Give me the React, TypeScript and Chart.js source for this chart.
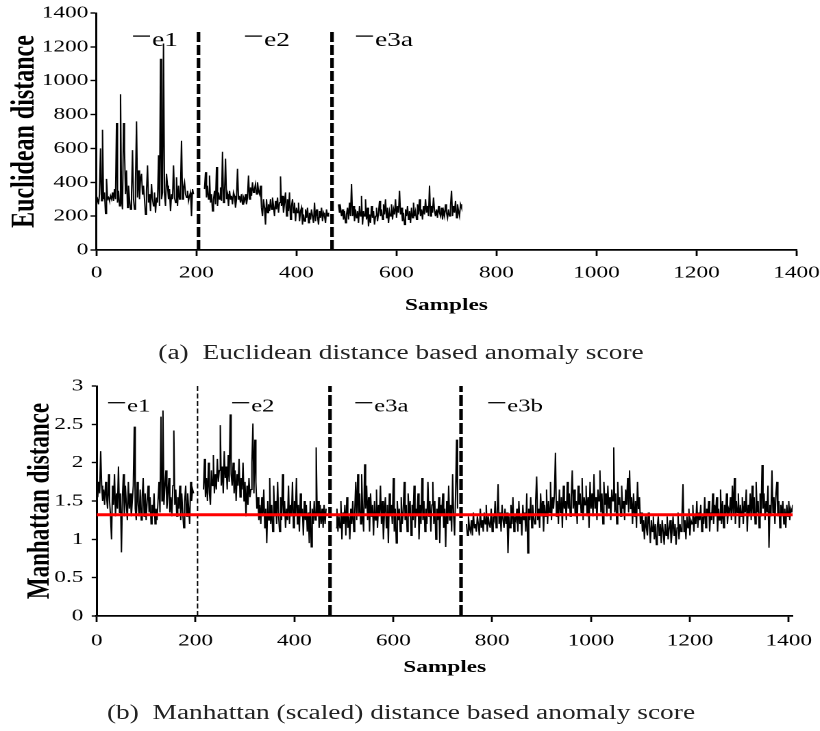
import React, { useEffect, useRef } from "react";
import { Chart, registerables } from "chart.js";

Chart.register(...registerables);

// ---------------- data: (a) Euclidean distance ----------------
const A_STEP = 2;
const A_E1_START = 0;
const A_E1 = [280, 300, 270, 330, 600, 290, 710, 300, 340, 215, 420, 300, 310, 290, 320, 300, 340, 290, 360, 300, 750, 280, 350, 260, 920, 300, 240, 750, 590, 330, 470, 250, 380, 300, 240, 330, 590, 300, 240, 400, 760, 310, 470, 300, 420, 450, 330, 380, 300, 210, 350, 500, 280, 330, 230, 390, 300, 260, 340, 220, 310, 280, 560, 260, 1130, 300, 340, 1220, 330, 260, 450, 380, 300, 360, 230, 330, 300, 500, 310, 280, 430, 260, 380, 300, 350, 645, 300, 370, 400, 330, 310, 350, 290, 320, 340, 200, 360, 330];
const A_E2_START = 216;
const A_E2 = [360, 460, 310, 380, 300, 440, 280, 330, 230, 300, 350, 270, 490, 260, 340, 300, 370, 290, 580, 280, 330, 540, 300, 330, 260, 350, 300, 320, 270, 340, 320, 250, 300, 480, 300, 320, 280, 330, 270, 310, 290, 330, 270, 310, 440, 300, 370, 320, 400, 340, 360, 390, 330, 400, 350, 330, 380, 250, 200, 300, 250, 150, 300, 220, 270, 230, 300, 240, 310, 260, 200, 290, 240, 310, 220, 280, 435, 260, 320, 220, 280, 340, 200, 300, 230, 340, 180, 260, 300, 220, 280, 170, 250, 220, 280, 170, 230, 250, 150, 210, 170, 240, 190, 250, 160, 220, 180, 240, 200, 160, 280, 170, 240, 200, 150, 230, 190, 250, 170, 220, 200, 160, 240, 200, 220];
const A_E3A_START = 484;
const A_E3A = [270, 220, 250, 200, 240, 180, 230, 160, 210, 250, 180, 280, 200, 390, 200, 260, 170, 240, 190, 230, 160, 260, 200, 320, 150, 230, 200, 300, 180, 250, 140, 210, 160, 260, 190, 230, 150, 200, 250, 170, 220, 290, 200, 240, 180, 270, 210, 300, 190, 250, 160, 230, 200, 270, 180, 240, 210, 300, 190, 260, 220, 350, 210, 250, 170, 220, 150, 240, 200, 260, 180, 230, 160, 250, 190, 280, 200, 230, 180, 270, 210, 300, 200, 240, 180, 260, 210, 300, 220, 260, 200, 380, 200, 260, 220, 310, 230, 200, 240, 190, 260, 220, 200, 250, 180, 230, 200, 270, 220, 190, 240, 200, 260, 350, 200, 260, 220, 290, 190, 270, 230, 200, 270, 250];
const A_SEPARATORS = [204, 471];
const A_SEP_TOP = 1300;
const A_X_TICKS = [0, 200, 400, 600, 800, 1000, 1200, 1400];
const A_Y_TICKS = [0, 200, 400, 600, 800, 1000, 1200, 1400];
const A_LABELS = ["e1", "e2", "e3a"];
const A_LABEL_X = [73, 297, 519];
const A_LABEL_Y = 1237;

// ---------------- data: (b) Manhattan (scaled) distance ----------------
const B_STEP = 2;
const B_E1_START = 0;
const B_E1 = [1.9, 1.55, 1.75, 1.6, 2.15, 1.7, 1.5, 1.65, 1.45, 1.75, 1.55, 1.4, 1.85, 1.5, 1.3, 1.0, 1.7, 1.45, 1.85, 1.3, 1.6, 1.4, 1.95, 1.35, 1.6, 0.83, 1.55, 1.85, 1.3, 1.7, 1.45, 1.25, 1.75, 1.4, 1.6, 1.3, 1.5, 1.7, 2.47, 1.4, 1.25, 1.75, 1.45, 1.3, 1.65, 1.25, 1.55, 1.8, 1.3, 1.6, 1.25, 1.5, 1.7, 1.35, 1.55, 1.2, 1.45, 1.3, 1.6, 1.2, 1.4, 1.25, 1.5, 1.75, 1.35, 2.6, 1.5, 2.68, 1.45, 1.7, 1.9, 1.4, 1.6, 1.8, 1.35, 1.55, 1.3, 1.7, 2.42, 1.45, 1.65, 1.3, 1.55, 1.4, 1.7, 1.25, 1.6, 1.35, 1.15, 1.5, 1.7, 1.3, 1.6, 1.4, 1.2, 1.75, 1.5, 1.65, 1.6];
const B_E2_START = 216;
const B_E2 = [1.65, 2.05, 1.55, 1.8, 1.5, 2.0, 1.6, 1.45, 1.9, 1.7, 2.1, 1.6, 1.85, 1.65, 2.05, 1.75, 1.9, 2.49, 1.7, 1.95, 1.6, 2.15, 1.8, 1.95, 1.65, 2.1, 1.75, 2.63, 1.85, 1.7, 2.0, 1.6, 1.9, 1.5, 1.85, 1.7, 2.05, 1.55, 1.8, 1.65, 2.0, 1.5, 1.75, 1.3, 1.7, 1.45, 1.8, 1.55, 1.65, 2.0, 2.51, 1.6, 2.3, 1.75, 1.4, 1.55, 1.25, 1.45, 1.2, 1.55, 1.3, 1.65, 1.15, 1.4, 0.95, 1.5, 1.25, 1.8, 1.2, 1.45, 1.1, 1.7, 1.3, 1.5, 1.2, 1.75, 1.3, 1.1, 1.55, 1.25, 1.85, 1.3, 1.5, 1.15, 1.4, 1.25, 1.7, 1.2, 1.45, 1.3, 1.75, 1.15, 1.5, 1.3, 1.8, 1.2, 1.45, 1.1, 1.6, 1.3, 1.4, 1.05, 1.5, 1.25, 1.45, 1.1, 1.35, 0.95, 1.5, 0.9, 1.4, 1.2, 1.5, 1.25, 2.2, 1.3, 1.5, 1.15, 1.45, 1.2, 1.4, 1.15, 1.45, 1.2, 1.4];
const B_E3A_START = 484;
const B_E3A = [1.15, 1.4, 1.1, 1.3, 1.15, 1.5, 1.0, 1.35, 1.2, 1.45, 1.05, 1.55, 1.15, 1.3, 1.0, 1.4, 1.2, 1.5, 1.1, 1.35, 1.75, 1.25, 1.85, 1.3, 1.6, 1.2, 1.85, 1.35, 1.1, 1.98, 1.4, 1.7, 1.25, 1.55, 1.1, 1.6, 1.3, 1.45, 1.05, 1.5, 1.25, 1.65, 1.15, 1.45, 1.3, 1.7, 1.2, 1.5, 1.0, 1.35, 1.55, 1.15, 1.45, 0.95, 1.6, 1.3, 1.45, 1.2, 1.8, 1.1, 1.4, 0.95, 1.5, 1.25, 1.4, 1.1, 1.55, 1.2, 1.35, 1.75, 1.25, 1.45, 1.1, 1.6, 1.3, 1.5, 1.05, 1.45, 1.25, 1.7, 1.15, 1.4, 1.3, 1.6, 1.0, 1.45, 1.2, 1.8, 1.25, 1.5, 1.1, 1.4, 1.2, 1.75, 1.3, 1.5, 1.1, 1.45, 1.75, 1.2, 1.5, 1.0, 1.4, 1.25, 1.55, 0.95, 1.45, 1.3, 1.6, 1.15, 1.4, 0.9, 1.5, 1.2, 1.7, 1.25, 1.45, 1.1, 1.85, 1.3, 1.05, 1.6, 2.3, 1.4];
const B_E3B_START = 748;
const B_E3B = [
  1.2, 1.05, 1.3, 1.15, 1.1, 1.25, 1.05, 1.35, 1.15, 1.2,
  1.1, 1.3, 1.2, 1.05, 1.4, 1.15, 1.25, 1.1, 1.35, 1.2,
  1.45, 1.1, 1.3, 1.2, 1.15, 1.4, 1.1, 1.3, 1.25, 1.5,
  1.15, 1.3, 1.72, 1.2, 1.35, 1.1, 1.45, 1.25, 1.15, 1.4,
  1.2, 1.35, 0.82, 1.3, 1.15, 1.45, 1.2, 1.55, 1.1, 1.3,
  1.25, 1.4, 1.1, 1.5, 1.2, 1.3, 1.05, 1.45, 1.25, 1.35,
  1.1, 1.6, 0.82, 1.4, 1.25, 1.55, 1.15, 1.45, 1.3, 1.2,
  1.5, 1.82, 1.25, 1.4, 1.15, 1.6, 1.3, 1.5, 1.1, 1.45,
  1.3, 1.65, 1.2, 1.5, 1.35, 1.75, 1.25, 1.55, 1.4, 1.6,
  2.13, 1.3, 1.5, 1.2, 1.65, 1.35, 1.55, 1.15, 1.7, 1.4,
  1.5, 1.25, 1.75, 1.4, 1.6, 1.3, 1.55, 1.9, 1.4, 1.65,
  1.3, 1.5, 1.2, 1.7, 1.45, 1.6, 1.35, 1.8, 1.25, 1.55,
  1.45, 1.7, 1.3, 1.55, 1.15, 1.75, 1.4, 1.6, 1.3, 1.85,
  1.4, 1.55, 1.25, 1.65, 1.5, 1.9, 1.35, 1.6, 1.2, 1.75,
  1.45, 1.6, 1.3, 1.7, 1.4, 1.55, 1.25, 1.65, 1.5, 2.2,
  1.35, 1.6, 1.2, 1.75, 1.45, 1.55, 1.3, 1.7, 1.4, 1.5,
  1.25, 1.65, 1.45, 1.8, 1.35, 1.9, 1.4, 1.55, 1.2, 1.6,
  1.3, 1.5, 1.15, 1.75, 1.4, 1.55, 1.2, 1.35, 1.1, 1.25,
  1.0, 1.3, 1.15, 1.05, 1.35, 1.2, 0.95, 1.25, 1.1, 1.3,
  1.0, 1.2, 0.93, 1.15, 1.3, 1.05, 1.2, 0.95, 1.25, 1.1,
  0.93, 1.2, 1.05, 1.3, 1.0, 1.15, 1.25, 0.95, 1.1, 1.3,
  1.05, 1.2, 0.93, 1.15, 1.35, 1.0, 1.2, 1.1, 1.3, 1.72,
  1.1, 1.25, 1.0, 1.3, 1.15, 1.4, 1.05, 1.25, 1.2, 1.45,
  1.1, 1.3, 1.2, 1.5, 1.15, 1.35, 1.25, 1.45, 1.1, 1.3,
  1.2, 1.55, 1.15, 1.4, 1.3, 1.5, 1.1, 1.35, 1.25, 1.6,
  1.2, 1.45, 1.3, 1.55, 1.1, 1.4, 1.25, 1.65, 1.2, 1.5,
  1.15, 1.45, 1.3, 1.6, 1.2, 1.4, 1.35, 1.55, 1.25, 1.7,
  1.3, 1.8, 1.2, 1.5, 1.35, 1.6, 1.15, 1.45, 1.3, 1.55,
  1.2, 1.5, 1.35, 1.65, 1.1, 1.45, 1.3, 1.6, 1.25, 1.7,
  1.3, 1.55, 1.2, 1.75, 1.35, 1.5, 1.15, 1.6, 1.3, 1.97,
  1.4, 1.6, 1.25, 1.5, 1.35, 1.7, 0.89, 1.45, 1.3, 1.9,
  1.35, 1.55, 1.2, 1.6, 1.75, 1.3, 1.5, 1.15, 1.45, 1.3,
  1.5, 1.2, 1.4, 1.15, 1.45, 1.3, 1.5, 1.25, 1.4, 1.35,
  1.45,
];
const B_THRESHOLD = 1.32;
const B_SEPARATORS = [204, 472, 737];
const B_X_MAX = 1408;
const B_X_TICKS = [0, 200, 400, 600, 800, 1000, 1200, 1400];
const B_Y_TICKS = [0, 0.5, 1, 1.5, 2, 2.5, 3];
const B_LABELS = ["e1", "e2", "e3a", "e3b"];
const B_LABEL_X = [23, 274, 523, 792];
const B_LABEL_Y = 2.726;

// ---------------- layout helpers ----------------
const S = 1.37; // horizontal stretch of the figure
const W = Math.round(820 / S);
const u = (p: number) => p / S;
const FONT = "'Liberation Serif', 'Times New Roman', Times, serif";

type Pt = { x: number; y: number };
const pts = (start: number, step: number, vals: number[]): Pt[] =>
  vals.map((v, i) => ({ x: start + i * step, y: v }));

const seriesDs = (label: string, data: Pt[]) => ({
  label,
  data,
  borderColor: "#000",
  borderWidth: 1,
  pointRadius: 0,
  tension: 0,
  fill: false,
});

const vlineDs = (x: number, top: number, width: number, dash: number[]) => ({
  label: "separator",
  data: [
    { x, y: 0 },
    { x, y: top },
  ],
  borderColor: "#000",
  borderWidth: width,
  borderDash: dash,
  borderCapStyle: "butt",
  pointRadius: 0,
  fill: false,
});

const seriesLabels = {
  id: "seriesLabels",
  afterDatasetsDraw(chart: any, _args: any, opts: any) {
    const { ctx, scales } = chart;
    const xs = scales.x;
    const ys = scales.y;
    ctx.save();
    opts.items.forEach((it: any) => {
      const px = xs.getPixelForValue(it.x);
      const py = ys.getPixelForValue(it.y);
      ctx.strokeStyle = "#000";
      ctx.lineWidth = 1.3;
      ctx.beginPath();
      ctx.moveTo(px, py - opts.raise);
      ctx.lineTo(px + opts.dashLen, py - opts.raise);
      ctx.stroke();
      ctx.fillStyle = "#000";
      ctx.font = `${opts.size}px ${FONT}`;
      ctx.textAlign = "left";
      ctx.textBaseline = "middle";
      ctx.fillText(it.text, px + opts.dashLen + opts.gap, py);
    });
    ctx.restore();
  },
};

type Cfg = {
  datasets: any[];
  xTicks: number[];
  yTicks: number[];
  xMax: number;
  yTitle: string;
  yTitleSize: number;
  yTitlePad: number;
  yTickPad: number;
  yTickLen: number;
  xTickPad: number;
  xTitlePad: number;
  area: { left: number; right: number; top: number; bottom: number };
  h: number;
  labels: { text: string; x: number; y: number }[];
  labelSize: number;
  raise: number;
};

const plain = (v: any) => String(v);

function makeConfig(c: Cfg): any {
  const tickFont = { family: FONT, size: 17 };
  return {
    type: "line",
    data: { datasets: c.datasets },
    plugins: [seriesLabels],
    options: {
      animation: false,
      responsive: false,
      devicePixelRatio: 2,
      layout: {
        padding: { left: 0, right: W - c.area.right, top: c.area.top, bottom: 0 },
      },
      plugins: {
        legend: { display: false },
        tooltip: { enabled: false },
        seriesLabels: {
          items: c.labels,
          size: c.labelSize,
          dashLen: u(17),
          gap: u(2),
          raise: c.raise,
        },
      },
      scales: {
        x: {
          type: "linear",
          min: 0,
          max: c.xMax,
          afterBuildTicks: (s: any) => {
            s.ticks = c.xTicks.map((v) => ({ value: v }));
          },
          afterFit: (s: any) => {
            s.height = c.h - c.area.bottom;
            s.paddingLeft = 0;
            s.paddingRight = 0;
          },
          ticks: {
            autoSkip: false,
            maxRotation: 0,
            includeBounds: false,
            color: "#000",
            font: tickFont,
            padding: c.xTickPad,
            callback: plain,
          },
          grid: {
            drawOnChartArea: false,
            drawTicks: true,
            tickLength: 6,
            tickWidth: 1.4,
            tickColor: "#000",
          },
          border: { display: true, color: "#000", width: 1.7 },
          title: {
            display: true,
            text: "Samples",
            color: "#000",
            font: { family: FONT, size: 17, weight: "bold" },
            padding: { top: 0, bottom: c.xTitlePad },
          },
        },
        y: {
          type: "linear",
          min: c.yTicks[0],
          max: c.yTicks[c.yTicks.length - 1],
          afterBuildTicks: (s: any) => {
            s.ticks = c.yTicks.map((v) => ({ value: v }));
          },
          afterFit: (s: any) => {
            s.width = c.area.left;
            s.paddingTop = 0;
            s.paddingBottom = 0;
          },
          ticks: {
            autoSkip: false,
            color: "#000",
            font: tickFont,
            padding: c.yTickPad,
            callback: plain,
          },
          grid: {
            drawOnChartArea: false,
            drawTicks: true,
            tickLength: c.yTickLen,
            tickWidth: 1.4,
            tickColor: "#000",
          },
          border: { display: true, color: "#000", width: 1.5 },
          title: {
            display: true,
            text: c.yTitle,
            color: "#000",
            font: { family: FONT, size: c.yTitleSize, weight: "bold" },
            padding: { top: c.yTitlePad, bottom: 0 },
          },
        },
      },
    },
  };
}

// ---------------- chart configs ----------------
const A_H = 330;
const configA = () =>
  makeConfig({
    datasets: [
      seriesDs("e1", pts(A_E1_START, A_STEP, A_E1)),
      seriesDs("e2", pts(A_E2_START, A_STEP, A_E2)),
      seriesDs("e3a", pts(A_E3A_START, A_STEP, A_E3A)),
      ...A_SEPARATORS.map((x) => vlineDs(x, A_SEP_TOP, u(3.6), [10, 3])),
    ],
    xTicks: A_X_TICKS,
    yTicks: A_Y_TICKS,
    xMax: A_X_TICKS[A_X_TICKS.length - 1],
    yTitle: "Euclidean distance",
    yTitleSize: 24,
    yTitlePad: 4,
    yTickPad: 1.6,
    yTickLen: u(6),
    xTickPad: 7,
    xTitlePad: 14,
    area: { left: u(96.5), right: u(796.5), top: 13, bottom: 250 },
    h: A_H,
    labels: A_LABELS.map((t, i) => ({ text: t, x: A_LABEL_X[i], y: A_LABEL_Y })),
    labelSize: 20,
    raise: 4.5,
  });

const B_TOP = 360;
const B_H = 330;
const configB = () =>
  makeConfig({
    datasets: [
      {
        label: "threshold",
        data: [
          { x: 0, y: B_THRESHOLD },
          { x: B_X_MAX, y: B_THRESHOLD },
        ],
        borderColor: "#ff0000",
        borderWidth: 3,
        pointRadius: 0,
        fill: false,
      },
      seriesDs("e1", pts(B_E1_START, B_STEP, B_E1)),
      seriesDs("e2", pts(B_E2_START, B_STEP, B_E2)),
      seriesDs("e3a", pts(B_E3A_START, B_STEP, B_E3A)),
      seriesDs("e3b", pts(B_E3B_START, B_STEP, B_E3B)),
      vlineDs(B_SEPARATORS[0], B_Y_TICKS[B_Y_TICKS.length - 1], u(1.4), [5, 2.5]),
      vlineDs(B_SEPARATORS[1], B_Y_TICKS[B_Y_TICKS.length - 1], u(3.6), [11, 3]),
      vlineDs(B_SEPARATORS[2], B_Y_TICKS[B_Y_TICKS.length - 1], u(3.6), [11, 3]),
    ],
    xTicks: B_X_TICKS,
    yTicks: B_Y_TICKS,
    xMax: B_X_MAX,
    yTitle: "Manhattan distance",
    yTitleSize: 23,
    yTitlePad: 16,
    yTickPad: 6,
    yTickLen: u(5),
    xTickPad: 9,
    xTitlePad: 12,
    area: { left: u(96.7), right: u(792.7), top: 386 - B_TOP, bottom: 616 - B_TOP },
    h: B_H,
    labels: B_LABELS.map((t, i) => ({ text: t, x: B_LABEL_X[i], y: B_LABEL_Y })),
    labelSize: 18,
    raise: 4.3,
  });

function ChartCanvas({ make, top, height }: { make: () => any; top: number; height: number }) {
  const ref = useRef<HTMLCanvasElement>(null);
  useEffect(() => {
    const chart = new Chart(ref.current as HTMLCanvasElement, make());
    return () => chart.destroy();
  }, []);
  return (
    <canvas
      ref={ref}
      width={W}
      height={height}
      style={{ position: "absolute", left: 0, top, width: W, height }}
    />
  );
}

const captionStyle = (centerY: number): React.CSSProperties => ({
  position: "absolute",
  left: u(401) - 300,
  width: 600,
  top: centerY - 12,
  height: 24,
  lineHeight: "24px",
  textAlign: "center",
  fontFamily: FONT,
  fontSize: 20,
  color: "#222",
  whiteSpace: "pre",
});

export default function App() {
  return (
    <div
      style={{
        position: "absolute",
        left: 0,
        top: 0,
        width: 820,
        height: 731,
        overflow: "hidden",
        background: "#fff",
      }}
    >
      <div
        style={{
          position: "absolute",
          left: 0,
          top: 0,
          width: W,
          height: 731,
          transform: `scaleX(${S})`,
          transformOrigin: "0 0",
        }}
      >
        <ChartCanvas make={configA} top={0} height={A_H} />
        <div style={captionStyle(352)}>{"(a)  Euclidean distance based anomaly score"}</div>
        <ChartCanvas make={configB} top={B_TOP} height={B_H} />
        <div style={captionStyle(712)}>{"(b)  Manhattan (scaled) distance based anomaly score"}</div>
      </div>
    </div>
  );
}
